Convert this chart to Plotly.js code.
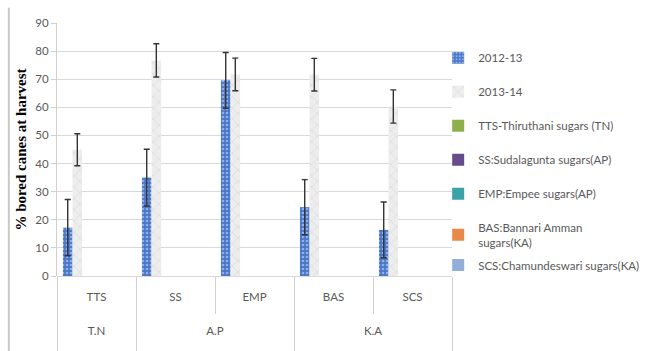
<!DOCTYPE html>
<html><head><meta charset="utf-8">
<script src="https://cdn.plot.ly/plotly-3.0.1.min.js"></script>
<style>html,body{margin:0;padding:0;background:#fff}</style>
</head><body><div id="chart" style="width:648px;height:351px"></div>
<script>
const regions = ["T.N", "A.P", "K.A"];
const regionCenters = [0, 1.5, 3.5];
const regionBounds = [-0.5, 0.5, 2.5, 4.5];
const innerBounds = [1.5, 3.5];
const mills = ["TTS", "SS", "EMP", "BAS", "SCS"];
const y2012 = [17.2, 35.0, 69.6, 24.5, 16.4];
const err2012 = [10.0, 10.1, 9.9, 9.8, 9.9];
const y2013 = [44.9, 76.7, 71.7, 71.6, 60.3];
const err2013 = [5.7, 5.9, 5.8, 5.8, 5.9];
const emptyVals = [0, 0, 0, 0, 0];
const seriesNames = ["2012-13", "2013-14", "TTS-Thiruthani sugars (TN)", "SS:Sudalagunta sugars(AP)",
  "EMP:Empee sugars(AP)", "BAS:Bannari Amman<br>sugars(KA)", "SCS:Chamundeswari sugars(KA)"];
const seriesColors = ["#4a76c6", "#e4e4e4", "#8cb04a", "#674c8c", "#3aa3a9", "#e8894a", "#93afd8"];

const traces = [];
const vals = [y2012, y2013, emptyVals, emptyVals, emptyVals, emptyVals, emptyVals];
const errs = [err2012, err2013, null, null, null, null, null];
for (let i = 0; i < 7; i++) {
  const t = {
    type: "bar", x: mills, y: vals[i], name: seriesNames[i],
    legendgroup: "g" + i,
    legend: i === 6 ? "legend2" : "legend",
    marker: {color: seriesColors[i], line: {width: 0}},
    hoverinfo: "skip"
  };
  if (i === 0) t.marker.pattern = {shape: ".", fgcolor: "#8fb0e6", bgcolor: "#4a76c6", size: 4, solidity: 0.35};
  if (i === 1) t.marker.pattern = {shape: "x", fgcolor: "#d4d4d4", bgcolor: "#ededed", size: 8, solidity: 0.12};
  if (errs[i]) t.error_y = {type: "data", array: errs[i], visible: true, color: "#333333", thickness: 1.4, width: 3};
  traces.push(t);
}
// helper traces carrying the outer (region) axis and the table lines
traces.push({type: "scatter", x: regionCenters, y: [null, null, null], xaxis: "x2", yaxis: "y", showlegend: false, hoverinfo: "skip"});
traces.push({type: "scatter", x: innerBounds, y: [null, null], xaxis: "x3", yaxis: "y", showlegend: false, hoverinfo: "skip"});

const layout = {
  width: 648, height: 351,
  margin: {l: 57, r: 196, t: 23, b: 75, autoexpand: false},
  paper_bgcolor: "#ffffff", plot_bgcolor: "#ffffff",
  barmode: "group", bargap: 0.15, bargroupgap: 0,
  font: {family: "Lato, Open Sans, sans-serif", color: "#595959", size: 11.5},
  xaxis: {
    type: "category", showline: false, showgrid: false, ticks: "",
    ticklabelstandoff: 12, tickfont: {size: 11.5, color: "#595959"}
  },
  xaxis2: {
    overlaying: "x", anchor: "y", side: "bottom", range: [-0.5, 4.5],
    showgrid: false, zeroline: false, showline: false,
    tickmode: "array", tickvals: regionCenters, ticktext: regions, ticks: "",
    ticklabelstandoff: 46, tickfont: {size: 11.5, color: "#595959"},
    minor: {tickmode: "array", tickvals: regionBounds, ticks: "outside", ticklen: 76, tickcolor: "#d0d0d0", tickwidth: 1, showgrid: false}
  },
  xaxis3: {
    overlaying: "x", anchor: "y", side: "bottom", range: [-0.5, 4.5],
    showgrid: false, zeroline: false, showline: false,
    tickmode: "array", tickvals: innerBounds, ticktext: ["", ""],
    ticks: "outside", ticklen: 37, tickcolor: "#d0d0d0", tickwidth: 1
  },
  yaxis: {
    range: [0, 90], dtick: 10, showgrid: true, gridcolor: "#d9d9d9", gridwidth: 1,
    zeroline: true, zerolinecolor: "#d9d9d9",
    showline: true, linecolor: "#d0d0d0", ticks: "outside", ticklen: 5, tickcolor: "#d0d0d0",
    tickfont: {size: 11.5, color: "#595959"},
    title: {text: "% bored canes at harvest", font: {family: "Liberation Serif, serif", size: 15, color: "#000000", weight: "bold"}, standoff: 5}
  },
  showlegend: true,
  legend: {
    x: 0.965, y: 0.92, xanchor: "left", yanchor: "top",
    font: {size: 11.5, color: "#595959"},
    tracegroupgap: 15, itemwidth: 30,
    bgcolor: "rgba(0,0,0,0)"
  },
  legend2: {
    x: 0.965, y: 0.043, xanchor: "left", yanchor: "middle",
    font: {size: 11.5, color: "#595959"},
    itemwidth: 30, bgcolor: "rgba(0,0,0,0)"
  },
  shapes: [
    {type: "line", xref: "paper", yref: "paper", x0: -0.122, x1: -0.122, y0: 1.06, y1: -0.3, line: {color: "#c8c8c8", width: 2}}
  ]
};
Plotly.newPlot("chart", traces, layout, {staticPlot: true, displayModeBar: false});
</script></body></html>
